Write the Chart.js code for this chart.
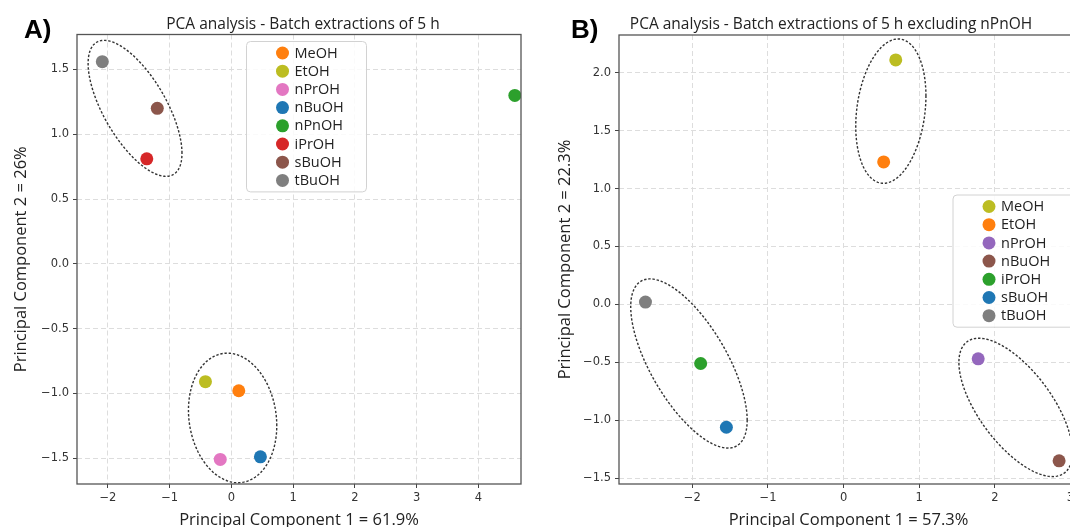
<!DOCTYPE html>
<html>
<head>
<meta charset="utf-8">
<script src="https://cdn.jsdelivr.net/npm/chart.js@4.4.1/dist/chart.umd.min.js"></script>
<style>
  html, body { margin: 0; padding: 0; background: #fff; overflow: hidden; width: 1070px; height: 527px; }
  #wrapA { position: absolute; left: 0; top: 0; }
  #wrapB { position: absolute; left: 540px; top: 0; }
</style>
</head>
<body>
<div id="wrapA"><canvas id="chartA" width="535" height="540"></canvas></div>
<div id="wrapB"><canvas id="chartB" width="560" height="540"></canvas></div>
<script>
// panel A: all eight solvents
const solventsA = ['MeOH', 'EtOH', 'nPrOH', 'nBuOH', 'nPnOH', 'iPrOH', 'sBuOH', 'tBuOH'];
const pc1A = [0.12, -0.42, -0.18, 0.47, 4.59, -1.37, -1.20, -2.09];
const pc2A = [-0.98, -0.91, -1.51, -1.49, 1.30, 0.81, 1.20, 1.56];
const xTicksA = [-2, -1, 0, 1, 2, 3, 4];
const yTicksA = [-1.5, -1.0, -0.5, 0.0, 0.5, 1.0, 1.5];

// panel B: nPnOH left out
const solventsB = ['MeOH', 'EtOH', 'nPrOH', 'nBuOH', 'iPrOH', 'sBuOH', 'tBuOH'];
const pc1B = [0.69, 0.53, 1.78, 2.85, -1.89, -1.55, -2.62];
const pc2B = [2.11, 1.23, -0.47, -1.35, -0.51, -1.06, 0.02];
const xTicksB = [-2, -1, 0, 1, 2, 3];
const yTicksB = [-1.5, -1.0, -0.5, 0.0, 0.5, 1.0, 1.5, 2.0];

// cluster rings: centre, half extent along x / y, correlation (data units)
const ringsA = [
  { cx: -1.56, cy: 1.20, sx: 0.76, sy: 0.525, rho: -0.66 },
  { cx: 0.02, cy: -1.19, sx: 0.715, sy: 0.50, rho: -0.12 }
];
const ringsB = [
  { cx: 0.625, cy: 1.668, sx: 0.464, sy: 0.623, rho: 0.21 },
  { cx: -2.045, cy: -0.51, sx: 0.77, sy: 0.73, rho: -0.67 },
  { cx: 2.276, cy: -0.889, sx: 0.751, sy: 0.597, rho: -0.65 }
];

const colorsA = ['#ff7f0e', '#bcbd22', '#e377c2', '#1f77b4', '#2ca02c', '#d62728', '#8c564b', '#7f7f7f'];
const colorsB = ['#bcbd22', '#ff7f0e', '#9467bd', '#8c564b', '#2ca02c', '#1f77b4', '#7f7f7f'];

const TEXT = '"Open Sans", sans-serif';
const fmt = (v, d) => (v < 0 ? '\u2212' : '') + Math.abs(v).toFixed(d);

const clusterRings = {
  id: 'clusterRings',
  beforeDatasetsDraw(chart, args, opts) {
    const { ctx, chartArea: a, scales: { x, y } } = chart;
    ctx.save();
    ctx.beginPath();
    ctx.rect(a.left, a.top, a.right - a.left, a.bottom - a.top);
    ctx.clip();
    ctx.strokeStyle = '#333';
    ctx.lineWidth = 1.4;
    ctx.setLineDash([2.4, 1.8]);
    opts.rings.forEach(r => {
      const k = Math.sqrt(1 - r.rho * r.rho);
      ctx.beginPath();
      for (let i = 0; i <= 200; i++) {
        const t = i / 200 * 2 * Math.PI;
        const px = x.getPixelForValue(r.cx + r.sx * Math.cos(t));
        const py = y.getPixelForValue(r.cy + r.sy * (r.rho * Math.cos(t) + k * Math.sin(t)));
        if (i === 0) ctx.moveTo(px, py); else ctx.lineTo(px, py);
      }
      ctx.closePath();
      ctx.stroke();
    });
    ctx.restore();
  }
};

const frameAndText = {
  id: 'frameAndText',
  afterDraw(chart, args, opts) {
    const { ctx, chartArea: a } = chart;
    ctx.save();
    ctx.setLineDash([]);
    ctx.strokeStyle = '#555';
    ctx.lineWidth = 1.3;
    ctx.strokeRect(a.left, a.top, a.right - a.left, a.bottom - a.top);
    ctx.fillStyle = '#222';
    ctx.textAlign = 'center';
    ctx.textBaseline = 'alphabetic';
    ctx.font = '15.5px ' + TEXT;
    ctx.fillText(opts.title, opts.titleX, 29);
    ctx.fillStyle = '#000';
    ctx.textAlign = 'left';
    ctx.font = 'bold 26px "Liberation Sans", Arial, sans-serif';
    ctx.fillText(opts.letter, opts.letterX, 37.5);
    ctx.restore();
  }
};

const boxLegend = {
  id: 'boxLegend',
  afterDraw(chart, args, opts) {
    const { ctx } = chart;
    const sets = chart.data.datasets;
    const rowH = 18.2;
    const h = (sets.length - 1) * rowH + 23;
    ctx.save();
    ctx.beginPath();
    ctx.roundRect(opts.x, opts.y, opts.w, h, 4);
    ctx.fillStyle = 'rgba(255,255,255,0.85)';
    ctx.fill();
    ctx.strokeStyle = '#d2d2d2';
    ctx.lineWidth = 1;
    ctx.stroke();
    ctx.font = '14.5px ' + TEXT;
    ctx.textBaseline = 'middle';
    sets.forEach((d, i) => {
      const cy = opts.y + 11.5 + i * rowH;
      ctx.beginPath();
      ctx.arc(opts.x + 36, cy, 6.5, 0, Math.PI * 2);
      ctx.fillStyle = d.backgroundColor;
      ctx.fill();
      ctx.fillStyle = '#222';
      ctx.fillText(d.label, opts.x + 48, cy + 0.5);
    });
    ctx.restore();
  }
};

function axis(range, ticks, digits, title, fixed, titlePad, tickPad, isX) {
  return {
    type: 'linear',
    min: range[0],
    max: range[1],
    afterBuildTicks: s => { s.ticks = ticks.map(v => ({ value: v })); },
    afterFit: s => { if (isX) s.height = fixed; else s.width = fixed; },
    ticks: {
      color: '#333',
      padding: tickPad,
      font: { family: '"DejaVu Sans"', size: 11.5 },
      callback: v => fmt(v, digits)
    },
    grid: {
      color: '#dddddd',
      lineWidth: 1,
      tickLength: 4,
      tickColor: '#444',
      tickWidth: 1,
      tickBorderDash: []
    },
    border: { display: false, dash: [5, 3] },
    title: {
      display: true,
      text: title,
      color: '#222',
      font: { family: TEXT, size: 16.5 },
      padding: isX ? { top: 0, bottom: titlePad } : { top: titlePad, bottom: 0 }
    }
  };
}

function pcaChart(id, p) {
  const datasets = p.names.map((n, i) => ({
    label: n,
    data: [{ x: p.xs[i], y: p.ys[i] }],
    backgroundColor: p.colors[i],
    borderWidth: 0,
    pointRadius: 6.5,
    pointHoverRadius: 6.5
  }));
  return new Chart(document.getElementById(id), {
    type: 'scatter',
    data: { datasets },
    options: {
      responsive: false,
      animation: false,
      layout: { padding: p.padding },
      plugins: {
        legend: { display: false },
        tooltip: { enabled: false },
        clusterRings: { rings: p.rings },
        frameAndText: { title: p.title, titleX: p.titleX, letter: p.letter, letterX: p.letterX },
        boxLegend: p.legend
      },
      scales: {
        x: axis(p.xRange, p.xTicks, 0, p.xLabel, 56, 10, 3, true),
        y: axis(p.yRange, p.yTicks, 1, p.yLabel, p.yWidth, p.yTitlePad, 4, false)
      }
    },
    plugins: [clusterRings, frameAndText, boxLegend]
  });
}

pcaChart('chartA', {
  names: solventsA, xs: pc1A, ys: pc2A, colors: colorsA,
  xTicks: xTicksA, yTicks: yTicksA,
  xRange: [-2.5, 4.69], yRange: [-1.70, 1.77],
  xLabel: 'Principal Component 1 = 61.9%', yLabel: 'Principal Component 2 = 26%',
  title: 'PCA analysis - Batch extractions of 5 h', titleX: 303, letter: 'A)', letterX: 24,
  padding: { left: 0, top: 34.5, right: 14, bottom: 0 }, yWidth: 77, yTitlePad: 11,
  rings: ringsA,
  legend: { x: 246.5, y: 41.5, w: 120 }
});

pcaChart('chartB', {
  names: solventsB, xs: pc1B, ys: pc2B, colors: colorsB,
  xTicks: xTicksB, yTicks: yTicksB,
  xRange: [-2.97, 3.1], yRange: [-1.55, 2.325],
  xLabel: 'Principal Component 1 = 57.3%', yLabel: 'Principal Component 2 = 22.3%',
  title: 'PCA analysis - Batch extractions of 5 h excluding nPnOH', titleX: 291, letter: 'B)', letterX: 31,
  padding: { left: 0, top: 35, right: 22, bottom: 0 }, yWidth: 79, yTitlePad: 15,
  rings: ringsB,
  legend: { x: 413, y: 195, w: 125 }
});
</script>
</body>
</html>
